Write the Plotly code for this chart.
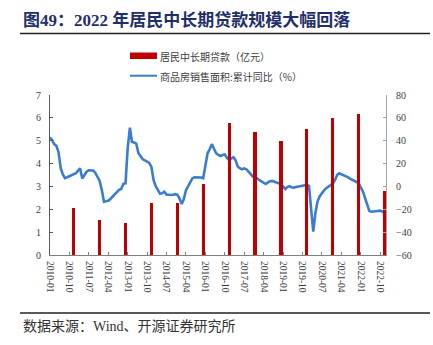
import plotly.graph_objects as go

# ---------------- data ----------------
loan_years = [2010, 2011, 2012, 2013, 2014, 2015, 2016, 2017, 2018, 2019, 2020, 2021, 2022]
loan_values = [2.04, 1.53, 1.39, 2.29, 2.28, 3.09, 5.76, 5.38, 5.00, 5.50, 6.00, 6.15, 2.80]

# monthly: commodity housing sales area, cumulative YoY (%), Jan..Dec
sales_2010 = [43, 40.5, 37, 35.5, 30, 16, 10.5, 7.3, 8, 9, 10, 10.5]
sales_2011 = [11.5, 13.8, 15.8, 7, 10.5, 12.9, 14.2, 14.4, 14, 12, 9, 5]
sales_2012 = [-3, -13.4, -13, -12.5, -11, -9, -7.5, -5, -3, -2.3, 2.3, 2.7]
sales_2013 = [34, 51.5, 39, 38.5, 37.5, 29, 26, 23.7, 22.8, 21.8, 20.5, 17]
sales_2014 = [5.5, 0, -3.2, -6.3, -6, -4.6, -7, -7.5, -7.5, -7.3, -6.8, -7.2]
sales_2015 = [-10.5, -15.4, -11.5, -3.5, 0, 4, 7, 8, 8, 8, 7.8, 7.1]
sales_2016 = [18, 29, 32.5, 37, 33, 29, 27.5, 26.6, 27.5, 28, 25, 23.1]
sales_2017 = [24.5, 25.5, 23, 17.5, 16, 15, 15.8, 15, 13, 10.5, 8.5, 7.8]
sales_2018 = [7.1, 5.5, 4.2, 3, 2.1, 3.5, 4.6, 4.8, 4, 3, 2.7, 2]
sales_2019 = [0, -2.3, -0.5, 0.2, -0.8, -1, -0.5, 0, 0.4, 0.8, 1.1, 1.3]
sales_2020 = [0.5, -22, -39.6, -23, -13, -8.5, -5.5, -3.5, -1.5, 0, 1.3, 2.5]
sales_2021 = [5.5, 10, 11.5, 10.6, 10.2, 9.4, 8.2, 6.8, 5.8, 5, 4.2, 3]
sales_2022 = [-1, -4.6, -10, -17, -21.5, -22.1, -22, -21.5, -21.3, -21.2, -22, -23.5]

sales_by_year = {2010: sales_2010, 2011: sales_2011, 2012: sales_2012, 2013: sales_2013,
                 2014: sales_2014, 2015: sales_2015, 2016: sales_2016, 2017: sales_2017,
                 2018: sales_2018, 2019: sales_2019, 2020: sales_2020, 2021: sales_2021,
                 2022: sales_2022}

loan_name = "居民中长期贷款（亿元）"
sales_name = "商品房销售面积:累计同比（%）"
title_text = "图49：2022 年居民中长期贷款规模大幅回落"
source_text = "数据来源：Wind、开源证券研究所"

# ---------------- build ----------------
line_x, line_y = [], []
for yr, vals in sales_by_year.items():
    for i, v in enumerate(vals):
        line_x.append(f"{yr}-{i+1:02d}-01")
        line_y.append(v)
bar_x = [f"{y}-12-01" for y in loan_years]

W, H = 433, 345
L, R, T, B = 50, 386, 95, 255


def px(x):
    return (x - L) / (R - L)


def py(y):
    return (B - y) / (B - T)


RED = "#C00000"
BLUE = "#3A7DD0"
SERIF = "Liberation Serif, Times New Roman, Noto Sans CJK SC, serif"
CJK = "Noto Sans CJK SC, Liberation Serif, sans-serif"

fig = go.Figure()
fig.add_trace(go.Scatter(x=line_x, y=line_y, mode="lines", name=sales_name,
                         line=dict(color=BLUE, width=2.6), yaxis="y", showlegend=False))
fig.add_trace(go.Bar(x=bar_x, y=loan_values, name=loan_name, marker_color=RED,
                     marker_line_width=0, width=3.9e9, yaxis="y2", showlegend=False))

fig.update_layout(
    width=W, height=H, autosize=False,
    margin=dict(l=L, r=W - R, t=T, b=H - B, pad=0),
    paper_bgcolor="white", plot_bgcolor="white",
    bargap=0,
    xaxis=dict(type="date", range=["2010-01-01", "2022-12-22"],
               tick0="2010-01-01", dtick="M9", tickformat="%Y-%m", tickangle=90,
               ticks="inside", ticklen=3, tickcolor="#7F7F7F",
               showline=True, linecolor="#7F7F7F", linewidth=1,
               showgrid=False, zeroline=False, ticklabelstandoff=3,
               tickfont=dict(family=SERIF, size=9.5, color="#404040")),
    yaxis=dict(range=[-60, 80], dtick=20, side="right",
               ticks="inside", ticklen=3, tickcolor="#A6A6A6",
               showline=True, linecolor="#A6A6A6", linewidth=1,
               showgrid=False, zeroline=False, ticklabelstandoff=7,
               tickfont=dict(family=SERIF, size=10, color="#404040")),
    yaxis2=dict(range=[0, 7], dtick=1, side="left", overlaying="y",
                ticks="inside", ticklen=3, tickcolor="#595959",
                showline=True, linecolor="#595959", linewidth=1,
                showgrid=False, zeroline=False, ticklabelstandoff=6,
                tickfont=dict(family=SERIF, size=10, color="#404040")),
)

shapes = [
    # title underline
    dict(type="line", xref="paper", yref="paper", x0=px(20), x1=px(430), y0=py(33.5), y1=py(33.5),
         line=dict(color="#222222", width=1.3)),
    # footer line
    dict(type="line", xref="paper", yref="paper", x0=px(20), x1=px(430), y0=py(313), y1=py(313),
         line=dict(color="#222222", width=1.3)),
    # legend: red box
    dict(type="rect", xref="paper", yref="paper", x0=px(130), x1=px(157), y0=py(59), y1=py(52.5),
         fillcolor=RED, line=dict(width=0)),
    # legend: blue line
    dict(type="line", xref="paper", yref="paper", x0=px(130), x1=px(157), y0=py(75.7), y1=py(75.7),
         line=dict(color=BLUE, width=2)),
]

annotations = [
    dict(text=f"<b>{title_text}</b>", xref="paper", yref="paper", x=px(21), y=py(20),
         xanchor="left", yanchor="middle", showarrow=False,
         font=dict(family=SERIF, size=17, color="#1F2F6B")),
    dict(text=loan_name, xref="paper", yref="paper", x=px(158), y=py(56),
         xanchor="left", yanchor="middle", showarrow=False,
         font=dict(family=CJK, size=10, color="#404040")),
    dict(text=sales_name, xref="paper", yref="paper", x=px(158), y=py(76),
         xanchor="left", yanchor="middle", showarrow=False,
         font=dict(family=CJK, size=10, color="#404040")),
    dict(text=source_text, xref="paper", yref="paper", x=px(21), y=py(326),
         xanchor="left", yanchor="middle", showarrow=False,
         font=dict(family=SERIF, size=14, color="#333333")),
]
fig.update_layout(shapes=shapes, annotations=annotations)

fig.write_html("out.html")
